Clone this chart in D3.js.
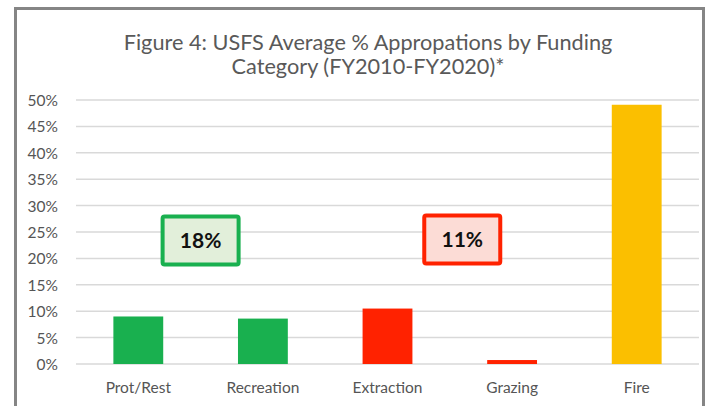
<!DOCTYPE html>
<html>
<head>
<meta charset="utf-8">
<script src="https://cdn.jsdelivr.net/npm/d3@7"></script>
<style>
  body { margin: 0; background: #fff; }
  text { font-family: Lato, "Open Sans", sans-serif; }
</style>
</head>
<body>
<div id="chart"></div>
<script>
// funding categories and their average share of appropriations
var categories = ["Prot/Rest", "Recreation", "Extraction", "Grazing", "Fire"];
var shares = [0.090, 0.086, 0.105, 0.0075, 0.491];
var barColors = ["#19b04f", "#19b04f", "#ff2200", "#ff2200", "#fbbf00"];
var yTicks = [0, 0.05, 0.10, 0.15, 0.20, 0.25, 0.30, 0.35, 0.40, 0.45, 0.50];

// call-out boxes: group totals (position given in category steps from the first bar)
var calloutText = ["18%", "11%"];
var calloutValue = [0.234, 0.236];
var calloutStep = [0.5, 2.6];
var calloutStroke = ["#19b04f", "#ff2200"];
var calloutFill = ["#e2efda", "#fcdcd6"];

var W = 705, H = 406;
var margin = {top: 100, right: 6, bottom: 42, left: 76};

var svg = d3.select("#chart").append("svg")
    .attr("width", W)
    .attr("height", H);

// chart frame
svg.append("path")
    .attr("d", "M15.5," + H + "V8.5H703.5V" + H)
    .attr("fill", "none")
    .attr("stroke", "#858585")
    .attr("stroke-width", 3);

// title
var title = svg.append("text")
    .attr("text-anchor", "middle")
    .attr("fill", "#595959")
    .style("font-size", "21.7px");
title.append("tspan").attr("x", 368).attr("y", 50)
    .text("Figure 4: USFS Average % Appropations by Funding");
title.append("tspan").attr("x", 368).attr("y", 74)
    .text("Category (FY2010-FY2020)*");

var x = d3.scaleBand()
    .domain(categories)
    .range([margin.left, W - margin.right])
    .paddingInner(0.6)
    .paddingOuter(0.3);

var y = d3.scaleLinear()
    .domain([0, 0.5])
    .range([364, margin.top]);

// gridlines
svg.append("g")
    .selectAll("line")
    .data(yTicks)
    .enter()
    .append("line")
    .attr("x1", margin.left)
    .attr("x2", W - margin.right)
    .attr("y1", function(d) { return y(d); })
    .attr("y2", function(d) { return y(d); })
    .attr("stroke", "#d9d9d9")
    .attr("stroke-width", 1.5);

// y axis labels
var yAxis = d3.axisLeft(y)
    .tickValues(yTicks)
    .tickFormat(d3.format(".0%"))
    .tickSize(0)
    .tickPadding(0);
var gy = svg.append("g")
    .attr("transform", "translate(58,0)")
    .call(yAxis);
gy.select(".domain").remove();
gy.selectAll("text")
    .attr("fill", "#555")
    .attr("dy", "0.35em")
    .style("font-size", "15.5px")
    .style("font-family", "Lato, sans-serif");

// x axis labels
var xAxis = d3.axisBottom(x).tickSize(0).tickPadding(0);
var gx = svg.append("g")
    .attr("transform", "translate(0,379)")
    .call(xAxis);
gx.select(".domain").remove();
gx.selectAll("text")
    .attr("fill", "#555")
    .attr("dy", "0.9em")
    .style("font-size", "15.5px")
    .style("font-family", "Lato, sans-serif");

// bars
svg.selectAll(".bar")
    .data(categories)
    .enter()
    .append("rect")
    .attr("class", "bar")
    .attr("x", function(d) { return x(d); })
    .attr("width", x.bandwidth())
    .attr("y", function(d, i) { return y(shares[i]); })
    .attr("height", function(d, i) { return y(0) - y(shares[i]); })
    .attr("fill", function(d, i) { return barColors[i]; });

// call-out boxes
var boxW = 76, boxH = 48;
var callouts = svg.selectAll(".callout")
    .data(calloutText)
    .enter()
    .append("g")
    .attr("class", "callout")
    .attr("transform", function(d, i) {
      var cx = x(categories[0]) + x.bandwidth() / 2 + calloutStep[i] * x.step();
      return "translate(" + [cx, y(calloutValue[i])] + ")";
    });

callouts.append("rect")
    .attr("x", -boxW / 2)
    .attr("y", -boxH / 2)
    .attr("width", boxW)
    .attr("height", boxH)
    .attr("rx", 2)
    .attr("fill", function(d, i) { return calloutFill[i]; })
    .attr("stroke", function(d, i) { return calloutStroke[i]; })
    .attr("stroke-width", 4);

callouts.append("text")
    .attr("text-anchor", "middle")
    .attr("dy", "0.36em")
    .attr("fill", "#111")
    .style("font-size", "21px")
    .style("font-weight", "bold")
    .text(function(d) { return d; });
</script>
</body>
</html>
